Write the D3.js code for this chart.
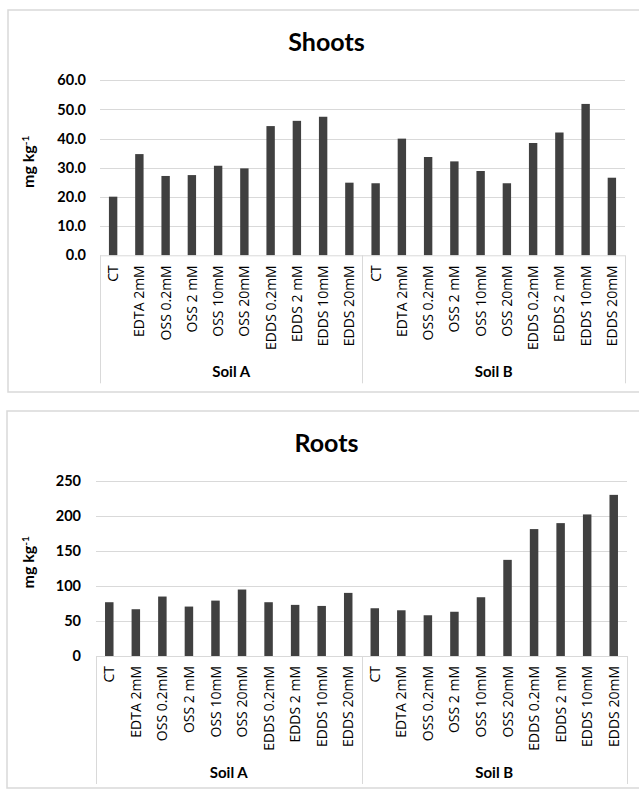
<!DOCTYPE html>
<html>
<head>
<meta charset="utf-8">
<script src="https://cdn.jsdelivr.net/npm/d3@7"></script>
<style>
  body { margin: 0; background: #fff; }
  svg { display: block; }
</style>
</head>
<body>
<div id="chart"></div>
<script>
(function(d3) {
    'use strict'

    // categories
    var soils = ['Soil A', 'Soil B'];
    var treatments = ['CT', 'EDTA 2mM', 'OSS 0.2mM', 'OSS 2 mM', 'OSS 10mM', 'OSS 20mM',
        'EDDS 0.2mM', 'EDDS 2 mM', 'EDDS 10mM', 'EDDS 20mM'];

    // values (mg kg-1)
    var shootsSoilA = [20.1, 34.7, 27.2, 27.5, 30.7, 29.8, 44.3, 46.1, 47.5, 24.9];
    var shootsSoilB = [24.7, 40.0, 33.7, 32.2, 28.9, 24.7, 38.5, 42.1, 51.9, 26.6];
    var rootsSoilA = [76.7, 66.7, 84.8, 70.5, 79.0, 94.8, 76.7, 72.9, 71.4, 90.0];
    var rootsSoilB = [68.1, 65.2, 58.1, 63.1, 83.8, 137.1, 181.0, 189.5, 201.9, 229.8];

    // tick labels
    var shootsTicks = [0, 10, 20, 30, 40, 50, 60];
    var rootsTicks = [0, 50, 100, 150, 200, 250];

    var width = 639;
    var height = 790;

    var svg = d3.select('#chart')
        .append('svg')
        .attr('width', width)
        .attr('height', height);

    function rows(a, b) {
        return soils.map(function(s, i) {
            var vals = i === 0 ? a : b;
            return treatments.map(function(t, j) {
                return { soil: s, label: t, key: s + '|' + t, value: vals[j] };
            });
        }).reduce(function(acc, r) { return acc.concat(r); }, []);
    }

    function drawPanel(p) {
        var g = svg.append('g');
        var data = rows(p.a, p.b);

        // outer frame
        g.append('rect')
            .attr('x', p.frame[0])
            .attr('y', p.frame[1])
            .attr('width', p.frame[2])
            .attr('height', p.frame[3])
            .attr('fill', '#fff')
            .attr('stroke', '#d9d9d9')
            .attr('stroke-width', 1.5);

        g.append('text')
            .attr('x', 326.5)
            .attr('y', p.titleY)
            .attr('text-anchor', 'middle')
            .style('font-family', 'Lato')
            .style('font-weight', 'bold')
            .style('font-size', '25px')
            .attr('fill', '#000')
            .text(p.title);

        var x = d3.scaleBand()
            .domain(data.map(function(d) { return d.key; }))
            .range([p.left, p.right])
            .paddingInner(0.68)
            .paddingOuter(0.34);

        var y = d3.scaleLinear()
            .domain([0, p.ticks[p.ticks.length - 1]])
            .range([p.bottom, p.top]);

        // gridlines
        g.append('g')
            .selectAll('line')
            .data(p.ticks.slice(1))
            .enter()
            .append('line')
            .attr('x1', p.left)
            .attr('x2', p.right)
            .attr('y1', function(d) { return Math.round(y(d)) + 0.5; })
            .attr('y2', function(d) { return Math.round(y(d)) + 0.5; })
            .attr('stroke', '#d9d9d9')
            .attr('stroke-width', 1);

        // y axis labels
        var yAxis = g.append('g')
            .attr('transform', 'translate(' + p.left + ',0)')
            .call(d3.axisLeft(y)
                .tickValues(p.ticks)
                .tickSize(0)
                .tickPadding(p.tickPad)
                .tickFormat(d3.format(p.fmt)));
        yAxis.select('.domain').remove();
        yAxis.selectAll('text')
            .style('font-family', 'Lato')
            .style('font-weight', 'bold')
            .style('font-size', '14.5px')
            .attr('fill', '#000');

        // bars
        g.append('g')
            .selectAll('rect')
            .data(data)
            .enter()
            .append('rect')
            .attr('x', function(d) { return x(d.key); })
            .attr('y', function(d) { return y(d.value); })
            .attr('width', x.bandwidth())
            .attr('height', function(d) { return y(0) - y(d.value); })
            .attr('fill', '#404040');

        // category box
        var boxBottom = p.bottom + 128;
        var mid = x(soils[1] + '|' + treatments[0]) - (x.step() - x.bandwidth()) / 2;
        var box = g.append('g')
            .attr('stroke', '#d9d9d9')
            .attr('stroke-width', 1);
        box.append('line')
            .attr('x1', p.left).attr('x2', p.right)
            .attr('y1', p.bottom + 0.5).attr('y2', p.bottom + 0.5);
        [p.left, mid, p.right].forEach(function(xx) {
            box.append('line')
                .attr('x1', Math.round(xx) + 0.5).attr('x2', Math.round(xx) + 0.5)
                .attr('y1', p.bottom).attr('y2', boxBottom);
        });

        // treatment labels
        g.append('g')
            .selectAll('text')
            .data(data)
            .enter()
            .append('text')
            .attr('transform', function(d) {
                return 'translate(' + (x(d.key) + x.bandwidth() / 2) + ',' + (p.bottom + 10) + ') rotate(-90)';
            })
            .attr('text-anchor', 'end')
            .attr('dy', '0.36em')
            .style('font-family', 'Open Sans')
            .style('font-size', '14px')
            .attr('fill', '#000')
            .text(function(d) { return d.label; });

        // soil labels
        var bounds = [p.left, mid, p.right];
        g.append('g')
            .selectAll('text')
            .data(soils)
            .enter()
            .append('text')
            .attr('x', function(d, i) { return (bounds[i] + bounds[i + 1]) / 2; })
            .attr('y', p.bottom + 122)
            .attr('text-anchor', 'middle')
            .style('font-family', 'Lato')
            .style('font-weight', 'bold')
            .style('font-size', '15px')
            .attr('fill', '#000')
            .text(function(d) { return d; });

        // y axis title
        var yt = g.append('text')
            .attr('transform', 'translate(34,' + ((p.top + p.bottom) / 2 - 6) + ') rotate(-90)')
            .attr('text-anchor', 'middle')
            .style('font-family', 'Lato')
            .style('font-weight', 'bold')
            .style('font-size', '16px')
            .attr('fill', '#000');
        yt.append('tspan').text('mg kg');
        yt.append('tspan')
            .attr('dy', '-0.5em')
            .style('font-size', '10px')
            .text('-1');
    }

    drawPanel({
        title: 'Shoots', titleY: 51, a: shootsSoilA, b: shootsSoilB,
        ticks: shootsTicks, fmt: '.1f',
        frame: [8, 10, 660, 382],
        left: 100, right: 625, top: 80.3, bottom: 255.3, tickPad: 14
    });

    drawPanel({
        title: 'Roots', titleY: 452, a: rootsSoilA, b: rootsSoilB,
        ticks: rootsTicks, fmt: 'd',
        frame: [7, 411, 660, 377],
        left: 96, right: 627, top: 480.7, bottom: 656, tickPad: 15
    });

})(window.d3);
</script>
</body>
</html>
